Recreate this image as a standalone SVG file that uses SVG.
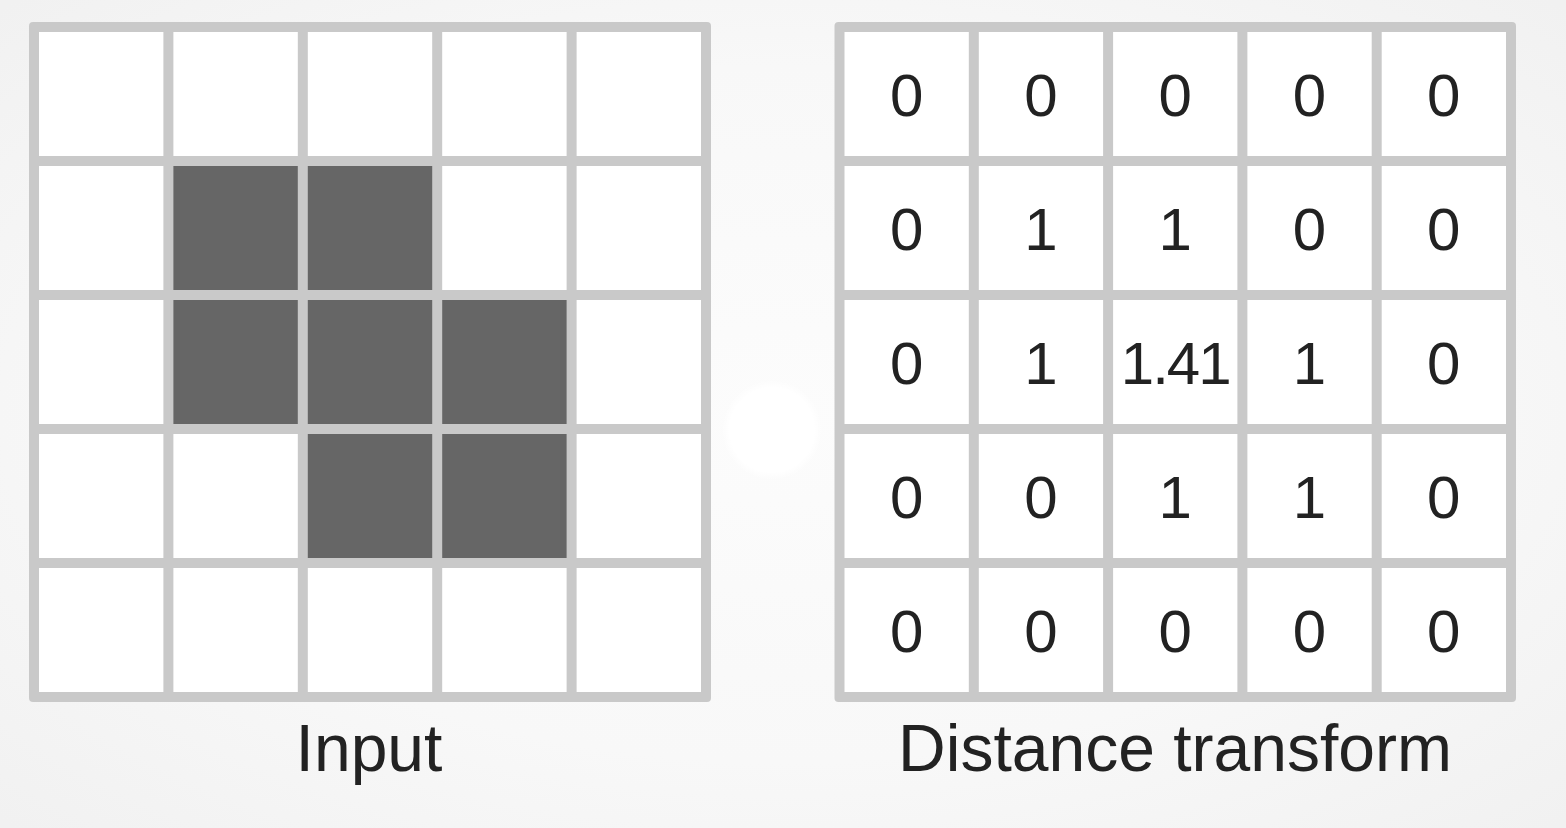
<svg xmlns="http://www.w3.org/2000/svg" width="1566" height="828" viewBox="0 0 1566 828">
<defs>
<radialGradient id="bg" cx="0.5" cy="0.5" r="0.7">
<stop offset="0" stop-color="#fcfcfc"/>
<stop offset="0.6" stop-color="#f8f8f8"/>
<stop offset="1" stop-color="#f1f1f1"/>
</radialGradient>
<radialGradient id="glow" cx="0.5" cy="0.5" r="0.5">
<stop offset="0" stop-color="#ffffff"/>
<stop offset="0.85" stop-color="#ffffff"/>
<stop offset="1" stop-color="#ffffff" stop-opacity="0"/>
</radialGradient>
</defs>
<style>
.frame{fill:#c9c9c9}
.w{fill:#ffffff}
.d{fill:#666666}
.num{font-family:"Liberation Sans",Arial,sans-serif;font-size:60px;fill:#222222;text-anchor:middle}
.lbl{font-family:"Liberation Sans",Arial,sans-serif;font-size:66px;fill:#222222;text-anchor:middle}
</style>
<rect width="1566" height="828" fill="url(#bg)"/>
<circle cx="772" cy="430" r="50" fill="url(#glow)"/>

<g id="input-grid">
<rect class="frame" x="29" y="22" width="682" height="680" rx="4"/>
<g id="in-r0">
<rect class="w" x="39" y="32" width="124.4" height="124"/>
<rect class="w" x="173.4" y="32" width="124.4" height="124"/>
<rect class="w" x="307.8" y="32" width="124.4" height="124"/>
<rect class="w" x="442.2" y="32" width="124.4" height="124"/>
<rect class="w" x="576.6" y="32" width="124.4" height="124"/>
</g>
<g id="in-r1">
<rect class="w" x="39" y="166" width="124.4" height="124"/>
<rect class="d" x="173.4" y="166" width="124.4" height="124"/>
<rect class="d" x="307.8" y="166" width="124.4" height="124"/>
<rect class="w" x="442.2" y="166" width="124.4" height="124"/>
<rect class="w" x="576.6" y="166" width="124.4" height="124"/>
</g>
<g id="in-r2">
<rect class="w" x="39" y="300" width="124.4" height="124"/>
<rect class="d" x="173.4" y="300" width="124.4" height="124"/>
<rect class="d" x="307.8" y="300" width="124.4" height="124"/>
<rect class="d" x="442.2" y="300" width="124.4" height="124"/>
<rect class="w" x="576.6" y="300" width="124.4" height="124"/>
</g>
<g id="in-r3">
<rect class="w" x="39" y="434" width="124.4" height="124"/>
<rect class="w" x="173.4" y="434" width="124.4" height="124"/>
<rect class="d" x="307.8" y="434" width="124.4" height="124"/>
<rect class="d" x="442.2" y="434" width="124.4" height="124"/>
<rect class="w" x="576.6" y="434" width="124.4" height="124"/>
</g>
<g id="in-r4">
<rect class="w" x="39" y="568" width="124.4" height="124"/>
<rect class="w" x="173.4" y="568" width="124.4" height="124"/>
<rect class="w" x="307.8" y="568" width="124.4" height="124"/>
<rect class="w" x="442.2" y="568" width="124.4" height="124"/>
<rect class="w" x="576.6" y="568" width="124.4" height="124"/>
</g>
</g>
<g id="input-label"><text class="lbl" x="369" y="771">Input</text></g>

<g id="dt-grid">
<rect class="frame" x="834.5" y="22" width="681.5" height="680" rx="4"/>
<g id="dt-cells">
<rect class="w" x="844.5" y="32" width="124.3" height="124"/>
<rect class="w" x="978.8" y="32" width="124.3" height="124"/>
<rect class="w" x="1113.1" y="32" width="124.3" height="124"/>
<rect class="w" x="1247.4" y="32" width="124.3" height="124"/>
<rect class="w" x="1381.7" y="32" width="124.3" height="124"/>
<rect class="w" x="844.5" y="166" width="124.3" height="124"/>
<rect class="w" x="978.8" y="166" width="124.3" height="124"/>
<rect class="w" x="1113.1" y="166" width="124.3" height="124"/>
<rect class="w" x="1247.4" y="166" width="124.3" height="124"/>
<rect class="w" x="1381.7" y="166" width="124.3" height="124"/>
<rect class="w" x="844.5" y="300" width="124.3" height="124"/>
<rect class="w" x="978.8" y="300" width="124.3" height="124"/>
<rect class="w" x="1113.1" y="300" width="124.3" height="124"/>
<rect class="w" x="1247.4" y="300" width="124.3" height="124"/>
<rect class="w" x="1381.7" y="300" width="124.3" height="124"/>
<rect class="w" x="844.5" y="434" width="124.3" height="124"/>
<rect class="w" x="978.8" y="434" width="124.3" height="124"/>
<rect class="w" x="1113.1" y="434" width="124.3" height="124"/>
<rect class="w" x="1247.4" y="434" width="124.3" height="124"/>
<rect class="w" x="1381.7" y="434" width="124.3" height="124"/>
<rect class="w" x="844.5" y="568" width="124.3" height="124"/>
<rect class="w" x="978.8" y="568" width="124.3" height="124"/>
<rect class="w" x="1113.1" y="568" width="124.3" height="124"/>
<rect class="w" x="1247.4" y="568" width="124.3" height="124"/>
<rect class="w" x="1381.7" y="568" width="124.3" height="124"/>
</g>
<g id="dt-values">
<text class="num" x="906.6" y="116">0</text>
<text class="num" x="1040.9" y="116">0</text>
<text class="num" x="1175.2" y="116">0</text>
<text class="num" x="1309.5" y="116">0</text>
<text class="num" x="1443.8" y="116">0</text>
<text class="num" x="906.6" y="250">0</text>
<text class="num" x="1040.9" y="250">1</text>
<text class="num" x="1175.2" y="250">1</text>
<text class="num" x="1309.5" y="250">0</text>
<text class="num" x="1443.8" y="250">0</text>
<text class="num" x="906.6" y="384">0</text>
<text class="num" x="1040.9" y="384">1</text>
<text class="num" x="1175.2" y="384" letter-spacing="-2">1.41</text>
<text class="num" x="1309.5" y="384">1</text>
<text class="num" x="1443.8" y="384">0</text>
<text class="num" x="906.6" y="518">0</text>
<text class="num" x="1040.9" y="518">0</text>
<text class="num" x="1175.2" y="518">1</text>
<text class="num" x="1309.5" y="518">1</text>
<text class="num" x="1443.8" y="518">0</text>
<text class="num" x="906.6" y="652">0</text>
<text class="num" x="1040.9" y="652">0</text>
<text class="num" x="1175.2" y="652">0</text>
<text class="num" x="1309.5" y="652">0</text>
<text class="num" x="1443.8" y="652">0</text>
</g>
</g>
<g id="dt-label"><text class="lbl" x="1175" y="771">Distance transform</text></g>
<g id="connectors"/>
</svg>
